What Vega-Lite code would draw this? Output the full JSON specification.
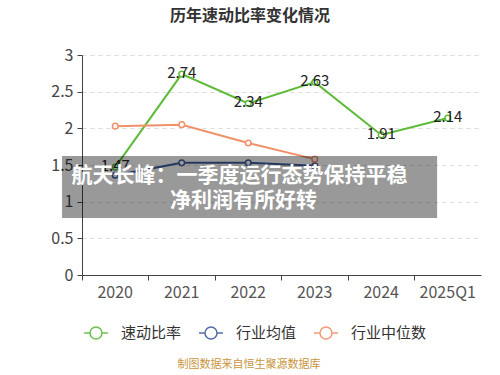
{
  "$schema": "https://vega.github.io/schema/vega-lite/v6.json",
  "width": 399,
  "height": 220,
  "autosize": {"type": "none"},
  "padding": {"left": 82, "top": 55, "right": 19, "bottom": 100},
  "background": "white",
  "config": {
    "font": "Noto Sans CJK SC",
    "view": {"stroke": null},
    "axis": {"labelFont": "Noto Sans CJK SC", "labelFontSize": 16, "labelColor": "#444", "domainColor": "#444", "tickColor": "#444", "titleFont": "Noto Sans CJK SC"},
    "legend": {"labelFont": "Noto Sans CJK SC", "titleFont": "Noto Sans CJK SC"}
  },
  "title": {
    "text": "历年速动比率变化情况",
    "fontSize": 16,
    "fontWeight": "bold",
    "color": "#333",
    "anchor": "middle",
    "dx": -31.5,
    "offset": 23,
    "font": "Noto Sans CJK SC"
  },
  "datasets": {
    "main": [
      {"year": "2020", "series": "速动比率", "value": 1.47},
      {"year": "2021", "series": "速动比率", "value": 2.74},
      {"year": "2022", "series": "速动比率", "value": 2.34},
      {"year": "2023", "series": "速动比率", "value": 2.63},
      {"year": "2024", "series": "速动比率", "value": 1.91},
      {"year": "2025Q1", "series": "速动比率", "value": 2.14},
      {"year": "2020", "series": "行业均值", "value": 1.36},
      {"year": "2021", "series": "行业均值", "value": 1.53},
      {"year": "2022", "series": "行业均值", "value": 1.53},
      {"year": "2023", "series": "行业均值", "value": 1.49},
      {"year": "2020", "series": "行业中位数", "value": 2.03},
      {"year": "2021", "series": "行业中位数", "value": 2.05},
      {"year": "2022", "series": "行业中位数", "value": 1.8},
      {"year": "2023", "series": "行业中位数", "value": 1.58}
    ],
    "banner": [
      {"line1": "航天长峰：一季度运行态势保持平稳", "line2": "净利润有所好转", "source": "制图数据来自恒生聚源数据库"}
    ]
  },
  "layer": [
    {
      "data": {"name": "main"},
      "encoding": {
        "x": {
          "field": "year",
          "type": "ordinal",
          "bandPosition": 0.5,
          "sort": ["2020", "2021", "2022", "2023", "2024", "2025Q1"],
          "scale": {"type": "band", "paddingInner": 0, "paddingOuter": 0, "domain": ["2020", "2021", "2022", "2023", "2024", "2025Q1"]},
          "axis": {"title": null, "labelAngle": 0, "bandPosition": 0, "tickSize": 5, "labelPadding": 4, "grid": false, "labelColor": "#555"}
        },
        "y": {
          "field": "value",
          "type": "quantitative",
          "scale": {"domain": [0, 3], "nice": false, "zero": true},
          "axis": {"title": null, "values": [0, 0.5, 1, 1.5, 2, 2.5, 3], "format": "~g", "tickSize": 5, "labelPadding": 4, "grid": true, "gridDash": [4, 4], "gridColor": "#dddddd", "labelColor": "#444"}
        },
        "color": {
          "field": "series",
          "type": "nominal",
          "sort": ["速动比率", "行业均值", "行业中位数"],
          "scale": {"domain": ["速动比率", "行业均值", "行业中位数"], "range": ["#5dbb37", "#3f5e9e", "#f0916a"]},
          "legend": {
            "title": null,
            "orient": "none",
            "legendX": 1,
            "legendY": 265,
            "direction": "horizontal",
            "symbolType": "M-1,0L-0.5,0M0.5,0A0.5,0.5,0,1,1,-0.5,0A0.5,0.5,0,1,1,0.5,0M0.5,0L1,0",
            "symbolSize": 576,
            "symbolStrokeWidth": 1.5,
            "labelFontSize": 15,
            "labelColor": "#333",
            "labelOffset": 12,
            "columnPadding": 14,
            "encode": {"symbols": {"update": {"fill": {"value": "white"}, "strokeWidth": {"value": 1.5}, "opacity": {"value": 0.9}}}}
          }
        }
      },
      "layer": [
        {"mark": {"type": "line", "strokeWidth": 2}},
        {"mark": {"type": "point", "shape": "circle", "filled": false, "fill": "white", "size": 32, "strokeWidth": 1.5, "opacity": 1}},
        {
          "transform": [{"filter": "datum.series === '速动比率'"}],
          "mark": {"type": "text", "fontSize": 15, "color": "#222", "baseline": "middle", "dy": -1},
          "encoding": {"text": {"field": "value", "type": "quantitative", "format": ".2f"}, "color": {"value": "#222"}}
        }
      ]
    },
    {
      "data": {"name": "banner"},
      "layer": [
        {
          "mark": {"type": "rect", "color": "#000", "opacity": 0.4},
          "encoding": {
            "x": {"datum": -0.3, "type": "quantitative", "scale": {"domain": [0, 6], "nice": false, "zero": false}, "axis": null},
            "x2": {"datum": 5.34},
            "y": {"datum": 1.623, "type": "quantitative", "axis": null},
            "y2": {"datum": 0.777}
          }
        },
        {
          "mark": {"type": "text", "color": "white", "fontSize": 21, "fontWeight": "bold", "align": "center", "baseline": "middle"},
          "encoding": {
            "x": {"datum": 2.37, "type": "quantitative", "axis": null},
            "y": {"datum": 1.35, "type": "quantitative", "axis": null},
            "text": {"field": "line1"}
          }
        },
        {
          "mark": {"type": "text", "color": "white", "fontSize": 21, "fontWeight": "bold", "align": "center", "baseline": "middle"},
          "encoding": {
            "x": {"datum": 2.43, "type": "quantitative", "axis": null},
            "y": {"datum": 1.01, "type": "quantitative", "axis": null},
            "text": {"field": "line2"}
          }
        },
        {
          "mark": {"type": "text", "color": "#c8963e", "fontSize": 11, "align": "center", "baseline": "middle"},
          "encoding": {
            "x": {"datum": 2.51, "type": "quantitative", "axis": null},
            "y": {"datum": -1.23, "type": "quantitative", "axis": null},
            "text": {"field": "source"}
          }
        }
      ]
    }
  ],
  "resolve": {"scale": {"x": "independent"}, "axis": {"y": "independent"}}
}
